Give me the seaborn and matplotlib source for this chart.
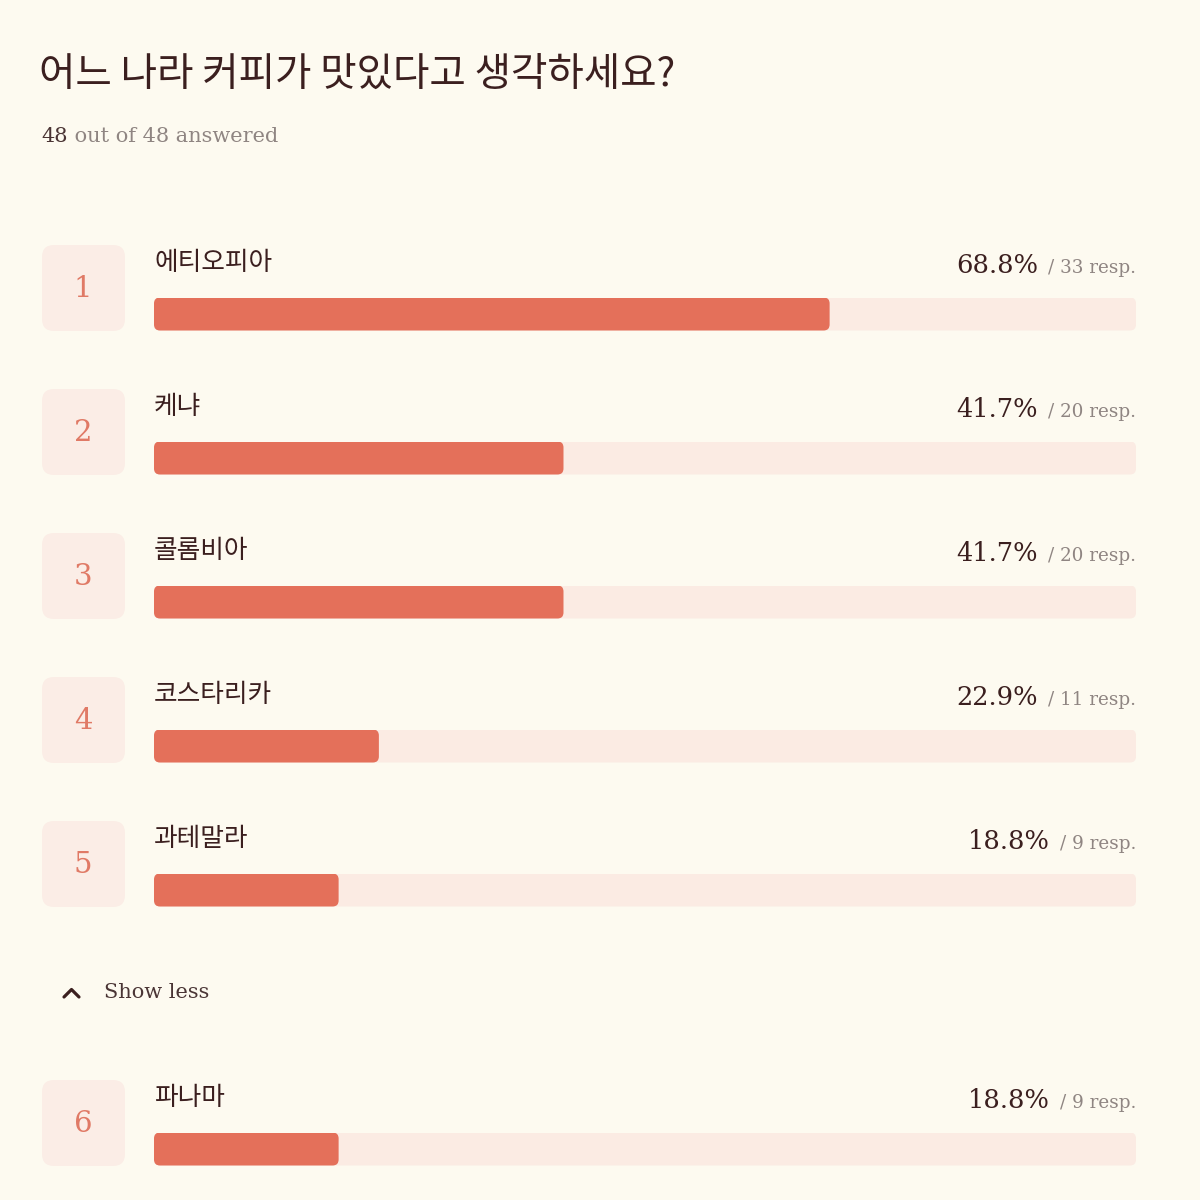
import matplotlib
matplotlib.use("Agg")
import numpy as np
import pandas as pd
import seaborn as sns
import matplotlib.pyplot as plt
from matplotlib.patches import FancyBboxPatch
from matplotlib.lines import Line2D

# ---------------- data ----------------
title = "어느 나라 커피가 맛있다고 생각하세요?"
answered = 48
total = 48
ranks = [1, 2, 3, 4, 5, 6]
countries = ["에티오피아", "케냐", "콜롬비아", "코스타리카", "과테말라", "파나마"]
percents = [68.8, 41.7, 41.7, 22.9, 18.8, 18.8]
responses = [33, 20, 20, 11, 9, 9]
toggle_label = "Show less"

# ---------------- style ----------------
BG = "#fdfaf0"
BAR = "#e4705a"
TRACK = "#fbebe3"
BOX = "#fbede6"
NUM = "#e07a66"
DARK = "#3b1f1f"
GRAY = "#8f8582"
SERIF = ["DejaVu Serif"]
KR = ["Noto Sans CJK KR", "DejaVu Sans"]

sns.set_theme(style="white")
plt.rcParams["font.family"] = KR

W = H = 1200
fig = plt.figure(figsize=(12, 12), dpi=100, facecolor=BG)
base = fig.add_axes([0, 0, 1, 1])
base.set_xlim(0, W)
base.set_ylim(H, 0)
base.axis("off")
base.set_facecolor(BG)

renderer = fig.canvas.get_renderer()

def text_width(t):
    return t.get_window_extent(renderer=renderer).width

# title & subtitle
base.text(39, 76, title, fontsize=28.5, color=DARK, ha="left", va="center",
          family=KR)
t48 = base.text(41, 142, str(answered), fontsize=15, color="#4a3434",
                ha="left", va="baseline", family=SERIF)
w48 = text_width(t48)
base.text(41 + w48, 142, f" out of {total} answered", fontsize=15,
          color=GRAY, ha="left", va="baseline", family=SERIF)

# rows
centers = [288, 432, 576, 720, 864, 1123]
BAR_X0, BAR_W, BAR_H = 154, 982, 33
RADIUS = 6

def round_bars(ax, axw_px, axh_px, radius_px):
    xr = 100.0 / axw_px
    yr = 1.0 / axh_px
    for p in list(ax.patches):
        x, y = p.get_x(), p.get_y()
        w, h = p.get_width(), p.get_height()
        fc = p.get_facecolor()
        z = p.get_zorder()
        p.remove()
        rb = FancyBboxPatch((x, y), w, h,
                            boxstyle=f"round,pad=0,rounding_size={radius_px * xr}",
                            mutation_aspect=yr / xr, facecolor=fc,
                            edgecolor="none", zorder=z)
        ax.add_patch(rb)

for rank, name, pct, resp, c in zip(ranks, countries, percents, responses, centers):
    # rank box
    base.add_patch(FancyBboxPatch((42, c - 43), 83, 86,
                                  boxstyle="round,pad=0,rounding_size=12",
                                  facecolor=BOX, edgecolor="none"))
    base.text(83, c + 1, str(rank), fontsize=21, color=NUM, ha="center",
              va="center", family=SERIF)
    # label
    base.text(154, c - 25, name, fontsize=18.5, color=DARK, ha="left",
              va="center", family=KR)
    # percent / responses
    tr = base.text(1136, c - 15, f"/ {resp} resp.", fontsize=13.2, color=GRAY,
                   ha="right", va="baseline", family=SERIF)
    wr = text_width(tr)
    base.text(1136 - wr - 10, c - 15, f"{pct:.1f}%", fontsize=18.5, color=DARK,
              ha="right", va="baseline", family=SERIF)

    # bar axes
    bc = c + 26
    bax = fig.add_axes([BAR_X0 / W, 1 - (bc + BAR_H / 2) / H, BAR_W / W, BAR_H / H])
    df_track = pd.DataFrame({"country": [name], "pct": [100.0]})
    df_val = pd.DataFrame({"country": [name], "pct": [pct]})
    sns.barplot(data=df_track, x="pct", y="country", color=TRACK, width=1,
                saturation=1, errorbar=None, ax=bax)
    sns.barplot(data=df_val, x="pct", y="country", color=BAR, width=1,
                saturation=1, errorbar=None, ax=bax)
    bax.set_xlim(0, 100)
    bax.set_ylim(0.5, -0.5)
    bax.axis("off")
    bax.patch.set_alpha(0)
    round_bars(bax, BAR_W, BAR_H, RADIUS)

# show less toggle
base.add_line(Line2D([64, 71.5, 79], [997, 989.5, 997], color=DARK, lw=2.3,
                     solid_capstyle="round", solid_joinstyle="round"))
base.text(104, 993, toggle_label, fontsize=15, color="#4a3535", ha="left",
          va="center", family=SERIF)

fig.savefig("out.png", dpi=100, facecolor=BG)
